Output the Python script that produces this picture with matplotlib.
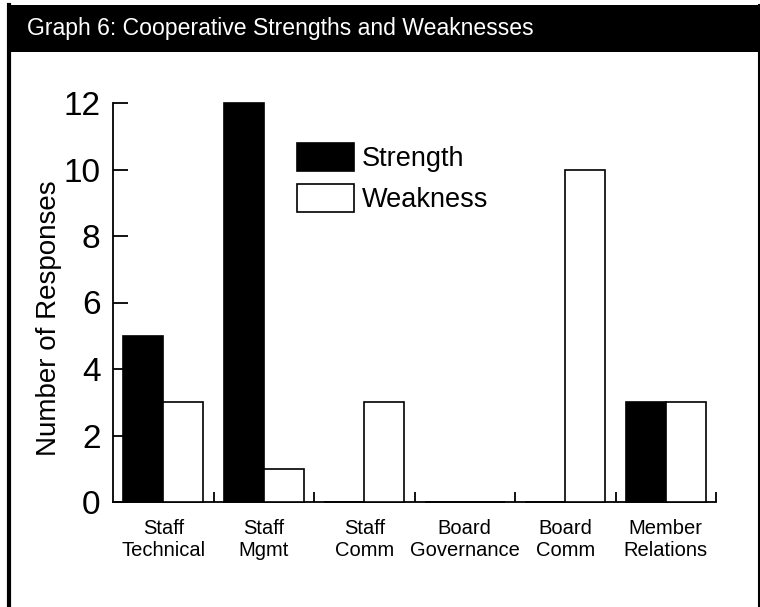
import numpy as np
import matplotlib
matplotlib.use("Agg")
import matplotlib.pyplot as plt
from matplotlib.patches import Rectangle

plt.rcParams["font.family"] = ["Liberation Sans", "DejaVu Sans"]

categories = ["Staff\nTechnical", "Staff\nMgmt", "Staff\nComm", "Board\nGovernance", "Board\nComm", "Member\nRelations"]
strength = [5, 12, 0, 0, 0, 3]
weakness = [3, 1, 3, 0, 10, 3]
y_ticks = [0, 2, 4, 6, 8, 10, 12]
title = "Graph 6: Cooperative Strengths and Weaknesses"

fig = plt.figure(figsize=(7.6, 6.07), dpi=100)

# black header bar and page border
fig.patches.append(Rectangle((7 / 760, 1 - 52 / 607), 1 - 7 / 760, 47 / 607,
                             transform=fig.transFigure, facecolor="black", edgecolor="none"))
fig.add_artist(plt.Line2D([8.5 / 760, 8.5 / 760], [0, 1 - 5 / 607], transform=fig.transFigure,
                          color="black", linewidth=3))
fig.add_artist(plt.Line2D([758.5 / 760, 758.5 / 760], [0, 1 - 5 / 607], transform=fig.transFigure,
                          color="black", linewidth=1.5))
fig.text(27 / 760, 1 - 29 / 607, title, color="white", fontsize=16.6, ha="left", va="center")

ax = fig.add_axes([113 / 760, 105 / 607, 603 / 760, 399 / 607])

x = np.arange(len(categories))
w = 0.4
# clip_on off so the zero-height bars still show as a heavy line on the axis
ax.bar(x - w / 2, strength, width=w, color="black", edgecolor="black", linewidth=1.2,
       label="Strength", clip_on=False, zorder=3)
ax.bar(x + w / 2, weakness, width=w, color="white", edgecolor="black", linewidth=1.2,
       label="Weakness", clip_on=False, zorder=3)

ax.set_xlim(-0.5, len(categories) - 0.5)
ax.set_ylim(0, 12)

# ticks between groups, labels under group centres
ax.set_xticks(np.append(x[:-1] + 0.5, len(categories) - 0.5))
ax.set_xticklabels([])
ax.set_xticks(x, minor=True)
ax.set_xticklabels(categories, minor=True, fontsize=14.5)
ax.tick_params(axis="x", which="major", direction="in", length=7, width=1.3)
ax.tick_params(axis="x", which="minor", length=0, pad=12)

ax.set_yticks(y_ticks)
ax.set_yticklabels([str(v) for v in y_ticks], fontsize=24)
ax.tick_params(axis="y", direction="in", length=11, width=1.3, pad=9)

ax.spines["top"].set_visible(False)
ax.spines["right"].set_visible(False)
ax.spines["left"].set_linewidth(1.3)
ax.spines["bottom"].set_linewidth(1.3)

ax.set_ylabel("Number of Responses", fontsize=20)
ax.yaxis.set_label_coords(-0.085, 0.46)

ax.legend(loc="upper left", bbox_to_anchor=(0.305, 0.90), frameon=False, fontsize=19.5,
          handlelength=2.1, handleheight=1.2, handletextpad=0.3, labelspacing=0.45,
          borderpad=0, borderaxespad=0)

fig.savefig("out.png", dpi=100)
